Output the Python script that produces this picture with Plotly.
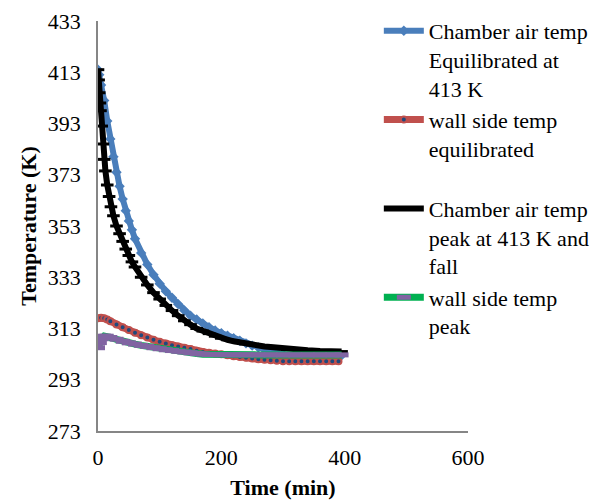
import plotly.graph_objects as go

# ---- data ----
t_blue = [0, 2, 5, 10, 15, 20, 25, 30, 35, 40, 45, 50, 55, 60, 70, 80, 90, 100, 110, 120,
          130, 140, 150, 160, 170, 180, 190, 200, 210, 220, 230, 240, 250, 260, 270, 280,
          290, 300, 320, 340, 360, 380, 395]
T_blue = [414, 412, 408, 402, 394, 387, 380, 374, 368.5, 363.5, 359, 355, 351.5, 348, 342.5,
          338, 334, 330.5, 327.5, 325, 322.5, 320, 318, 316.5, 315, 313.5, 312.2, 311.2, 310.2,
          309.2, 308.2, 307.2, 306.3, 305.6, 304.8, 304, 303.5, 303, 302.7, 302.5, 302.5, 302.5, 302.5]

t_red = [0, 5, 10, 15, 20, 30, 40, 50, 60, 70, 80, 90, 100, 110, 120, 130, 140, 150, 160,
         170, 180, 190, 200, 210, 220, 230, 240, 250, 260, 270, 280, 290, 300, 310, 320,
         330, 340, 350, 360, 370, 380, 390]
T_red = [317, 317.2, 317, 316.5, 315.8, 314.6, 313.5, 312.4, 311.3, 310.4, 309.5, 308.6, 307.8,
         307.1, 306.5, 306, 305.5, 305, 304.3, 303.8, 303.5, 303.2, 303, 302.6, 302.2, 301.9,
         301.6, 301.3, 301, 300.8, 300.6, 300.4, 300.2, 300.2, 300.2, 300.2, 300.2, 300.2,
         300.2, 300.2, 300.2, 300.2]

t_black = [0, 1, 2, 3, 4, 6, 8, 10, 12, 15, 18, 21, 25, 30, 35, 40, 45, 50, 55, 60, 70, 80,
           90, 100, 110, 120, 130, 140, 150, 160, 170, 180, 190, 200, 210, 220, 230, 240,
           250, 260, 270, 280, 290, 300, 320, 340, 360, 380, 395]
T_black = [414, 410, 405, 401, 398, 392, 385, 379, 374.5, 369, 364.5, 360.5, 357, 353, 350,
           347, 344, 341.5, 339, 337, 333, 330, 327, 324.5, 322, 320, 318, 316, 314.5, 313,
           312, 311, 310, 309.2, 308.6, 308, 307.5, 307, 306.6, 306.3, 306, 305.8, 305.5, 305.2,
           304.8, 304.5, 304.2, 304, 304]

t_peak = [0, 3, 6, 10, 14, 20, 30, 40, 50, 60, 70, 80, 90, 100, 110, 120, 130, 140, 150,
          160, 170, 180, 200, 220, 240, 260, 280, 300, 320, 340, 360, 380, 395]
T_peak = [305.5, 307.5, 309, 310, 310, 309.5, 308.8, 308, 307.4, 306.9, 306.4, 306, 305.5,
          305.1, 304.7, 304.4, 304.1, 303.8, 303.5, 303.2, 303, 302.9, 302.8, 302.7, 302.7,
          302.7, 302.7, 302.7, 302.7, 302.7, 302.7, 302.7, 302.7]

names = ["Chamber air temp<br>Equilibrated at<br>413 K",
         "wall side temp<br>equilibrated<br> ",
         "Chamber air temp<br>peak at 413 K and<br>fall",
         "wall side temp<br>peak"]

x_ticks = [0, 200, 400, 600]
y_ticks = [273, 293, 313, 333, 353, 373, 393, 413, 433]

FONT = "Liberation Serif"
FS = 22

fig = go.Figure()
fig.add_trace(go.Scatter(x=t_blue, y=T_blue, name=names[0], mode="lines+markers",
                         line=dict(color="#4a7ebb", width=6),
                         marker=dict(symbol="diamond", size=8, color="#4a7ebb")))
fig.add_trace(go.Scatter(x=t_red, y=T_red, name=names[1], mode="lines+markers",
                         line=dict(color="#c0504d", width=7),
                         marker=dict(symbol="circle", size=6, color="#1f497d",
                                     line=dict(color="#c0504d", width=2))))
fig.add_trace(go.Scatter(x=t_black, y=T_black, name=names[2], mode="lines+markers",
                         line=dict(color="black", width=6),
                         marker=dict(symbol="line-ew", size=9, color="black",
                                     line=dict(color="black", width=3))))
fig.add_trace(go.Scatter(x=t_peak, y=T_peak, name=names[3], mode="lines+markers",
                         line=dict(color="#00b050", width=7),
                         marker=dict(symbol="line-ew", size=10, color="#8064a2",
                                     line=dict(color="#8064a2", width=5))))
fig.add_trace(go.Scatter(x=t_peak, y=T_peak, mode="lines", showlegend=False,
                         hoverinfo="skip", line=dict(color="#8064a2", width=5)))

fig.update_layout(
    width=595, height=494,
    margin=dict(l=90, r=135, t=13, b=71, autoexpand=False),
    paper_bgcolor="white", plot_bgcolor="white",
    font=dict(family=FONT, size=FS, color="black"),
    showlegend=True,
    legend=dict(x=0.759, xanchor="left", y=1.0268, yanchor="top", maxheight=480,
                bgcolor="rgba(255,255,255,0)", font=dict(family=FONT, size=FS, color="black"),
                valign="top", itemwidth=40, tracegroupgap=0),
    xaxis=dict(range=[0, 600], tickvals=x_ticks, ticktext=[str(v) for v in x_ticks],
               showgrid=False, zeroline=False, showline=True, linecolor="#868686",
               linewidth=1.5, ticks="", ticklabelstandoff=6, automargin=False,
               ticklabeloverflow="allow",
               title=dict(text="<b>Time (min)</b>", standoff=10,
                          font=dict(family=FONT, size=FS))),
    yaxis=dict(range=[273, 433], tickvals=y_ticks, ticktext=[str(v) for v in y_ticks],
               showgrid=False, zeroline=False, showline=True, linecolor="#868686",
               linewidth=1.5, ticks="", ticklabelstandoff=11, automargin=False,
               ticklabeloverflow="allow",
               title=dict(text="<b>Temperature (K)</b>", standoff=5,
                          font=dict(family=FONT, size=FS))),
)

fig.write_html("out.html")
